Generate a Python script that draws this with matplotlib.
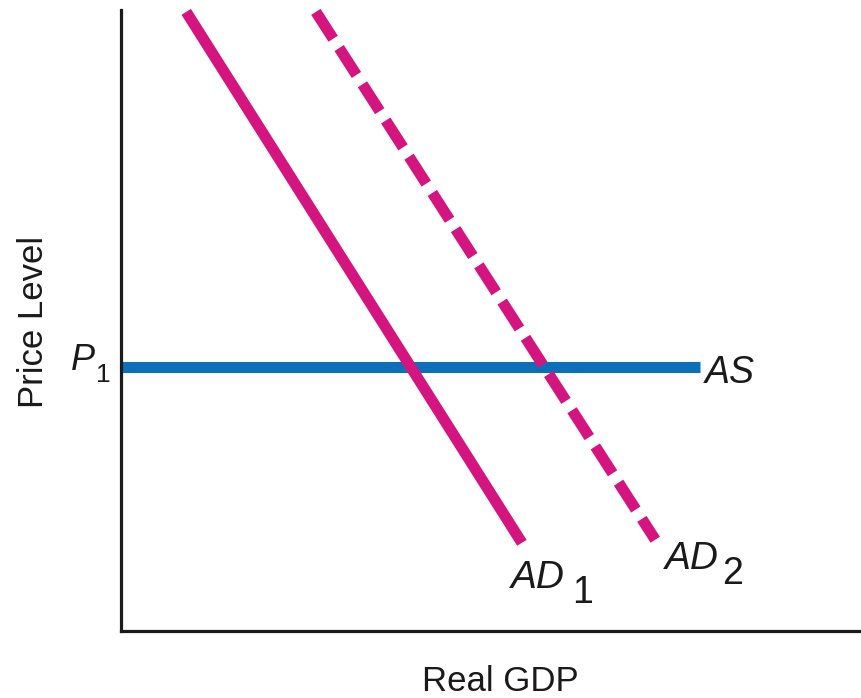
import matplotlib
matplotlib.use("Agg")
import matplotlib.pyplot as plt

plt.rcParams['font.family'] = ['Liberation Sans', 'DejaVu Sans']
plt.rcParams['lines.scale_dashes'] = False

# Data (axes units 0..10)
ad1_x = [0.88, 5.41]
ad1_y = [9.97, 1.42]
ad2_x = [2.63, 7.21]
ad2_y = [9.97, 1.47]
as_x = [0.0, 7.81]
as_y = [4.25, 4.25]

x_label = "Real GDP"
y_label = "Price Level"

W, H = 862, 698
fig = plt.figure(figsize=(W / 100, H / 100), dpi=100)
ax = fig.add_axes([121 / W, (H - 631) / H, (W - 121) / W, 621 / H])
ax.set_xlim(0, 10)
ax.set_ylim(0, 10)
for s in ['top', 'right']:
    ax.spines[s].set_visible(False)
for s in ['left', 'bottom']:
    ax.spines[s].set_linewidth(2.3)
    ax.spines[s].set_color('#1a1a1a')
ax.set_xticks([])
ax.set_yticks([])

magenta = '#d4147f'
blue = '#0d6fb8'
lw = 8

ax.plot(as_x, as_y, color=blue, lw=lw, solid_capstyle='butt', clip_on=False)
ax.plot(ad1_x, ad1_y, color=magenta, lw=lw, solid_capstyle='butt', clip_on=False)
ax.plot(ad2_x, ad2_y, color=magenta, lw=lw, dash_capstyle='butt',
        dashes=(23, 8), clip_on=False)

def ptext(px, py, s, **kw):
    fig.text(px / W, 1 - py / H, s, **kw)

ptext(34, 322, y_label, rotation=90, ha='center', va='center', fontsize=25, color='#1a1a1a')
ptext(500, 691, x_label, ha='center', va='baseline', fontsize=25, color='#1a1a1a')

# P1
ptext(71, 370, "P", ha='left', va='baseline', fontsize=26, style='italic', color='#1a1a1a')
ptext(96, 382, "1", ha='left', va='baseline', fontsize=19, color='#1a1a1a')
# AS
ptext(705, 383, "AS", ha='left', va='baseline', fontsize=27, style='italic', color='#1a1a1a')
# AD1
ptext(511, 588, "AD", ha='left', va='baseline', fontsize=28, style='italic', color='#1a1a1a')
ptext(572, 603, "1", ha='left', va='baseline', fontsize=27, color='#1a1a1a')
# AD2
ptext(665, 569, "AD", ha='left', va='baseline', fontsize=28, style='italic', color='#1a1a1a')
ptext(722, 584, "2", ha='left', va='baseline', fontsize=27, color='#1a1a1a')

fig.savefig("out.png", dpi=100)
